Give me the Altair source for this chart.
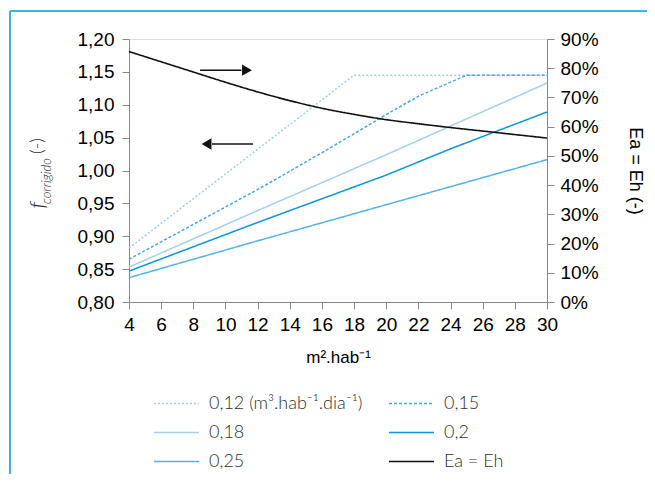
import altair as alt
import pandas as pd

# ---- data ----
x_012 = [4, 18, 30]
f_012 = [0.882, 1.145, 1.145]
x_015 = [4, 8, 12, 16, 20, 22, 25, 30]
f_015 = [0.865, 0.918, 0.971, 1.027, 1.085, 1.113, 1.145, 1.145]
x_018 = [4, 12, 20, 30]
f_018 = [0.853, 0.939, 1.024, 1.133]
x_020 = [4, 12, 16, 20, 24, 30]
f_020 = [0.847, 0.921, 0.957, 0.993, 1.033, 1.089]
x_025 = [4, 12, 20, 30]
f_025 = [0.837, 0.893, 0.948, 1.0165]
x_ea = [4, 6, 8, 10, 12, 14, 16, 18, 20, 22, 24, 26, 28, 30]
e_ea = [0.857, 0.822, 0.787, 0.752, 0.719, 0.689, 0.663, 0.642, 0.624, 0.610, 0.597, 0.585, 0.573, 0.561]

series_names = ["0,12 (m³.hab⁻¹.dia⁻¹)", "0,15", "0,18", "0,2", "0,25", "Ea = Eh"]
series_colors = ["#9fd0ef", "#45a8e0", "#a6cfea", "#0a96d4", "#55b2e2", "#111111"]
series_dash = [[2, 2], [3, 2], [1, 0], [1, 0], [1, 0], [1, 0]]

x_ticks = list(range(4, 31, 2))
f_ticks = [0.80, 0.85, 0.90, 0.95, 1.00, 1.05, 1.10, 1.15, 1.20]
e_ticks = [0.0, 0.1, 0.2, 0.3, 0.4, 0.5, 0.6, 0.7, 0.8, 0.9]

# arrows (annotation)
arrow_y = [1.1526, 1.0404]
arrow_tail = [8.42, 11.71]
arrow_base = [11.0, 9.16]
arrow_head = [11.34, 8.82]
arrow_shape = ["triangle-right", "triangle-left"]

FONT = "Lato"
W = 300
TXT = "#2e2e2e"
FRAME = "#3fb1e3"

rows = []
for name, xs, ys in [(series_names[0], x_012, f_012), (series_names[1], x_015, f_015),
                     (series_names[2], x_018, f_018), (series_names[3], x_020, f_020),
                     (series_names[4], x_025, f_025)]:
    for xv, yv in zip(xs, ys):
        rows.append({"serie": name, "x": xv, "f": yv})
df_f = pd.DataFrame(rows)
df_e = pd.DataFrame({"serie": series_names[5], "x": x_ea, "e": e_ea})
df_arrow = pd.DataFrame({"y": arrow_y, "tail": arrow_tail, "base": arrow_base,
                         "head": arrow_head, "shape": arrow_shape})

x_scale = alt.Scale(domain=[4, 30], nice=False, zero=False)
f_scale = alt.Scale(domain=[0.8, 1.2], nice=False, zero=False)
e_scale = alt.Scale(domain=[0, 0.9], nice=False)


def legend():
    return alt.Legend(orient="none", legendX=24, legendY=350, columns=2, direction="horizontal",
                      title=None, symbolType="stroke", symbolSize=2025, symbolStrokeWidth=1.5,
                      labelFont=FONT, labelFontSize=18, labelFontWeight=W, labelColor=TXT,
                      labelOffset=9, rowPadding=0, columnPadding=25, labelLimit=400,
                      clipHeight=29)


color = alt.Color("serie:N", scale=alt.Scale(domain=series_names, range=series_colors), legend=legend())
dash = alt.StrokeDash("serie:N", scale=alt.Scale(domain=series_names, range=series_dash), legend=legend())


def x_axis():
    return alt.Axis(values=x_ticks, title="m².hab⁻¹", grid=False, tickSize=7, labelPadding=6,
                    labelFontSize=19, titleFontSize=17, titlePadding=15, labelOverlap=False,
                    labelFlush=False, titleFontWeight=W, labelFontWeight=W)


def f_axis():
    return alt.Axis(values=f_ticks, title=None, grid=False, tickSize=7, labelPadding=8,
                    labelFontSize=19, labelOverlap=False, labelFlush=False, labelFontWeight=W,
                    labelExpr="replace(format(datum.value, '.2f'), '.', ',')")


e_axis = alt.Axis(values=e_ticks, orient="right", format=".0%", title="Ea = Eh (-)", titleAngle=90,
                  grid=False, tickSize=7, labelPadding=6, labelFontSize=19, titleFontSize=18,
                  titlePadding=27, labelOverlap=False, labelFlush=False, titleFontWeight=W,
                  labelFontWeight=W)

f_lines = alt.Chart(df_f).mark_line(strokeWidth=1.5).encode(
    x=alt.X("x:Q", scale=x_scale, axis=x_axis()),
    y=alt.Y("f:Q", scale=f_scale, axis=f_axis()),
    color=color, strokeDash=dash, detail="serie:N", order="x:Q")

arrow_lines = alt.Chart(df_arrow).mark_rule(color="#111111", strokeWidth=1.5).encode(
    x=alt.X("tail:Q", scale=x_scale, axis=x_axis()), x2="base:Q",
    y=alt.Y("y:Q", scale=f_scale, axis=f_axis()))
arrow_heads = alt.Chart(df_arrow).mark_point(filled=True, color="#111111", size=130, opacity=1).encode(
    x=alt.X("head:Q", scale=x_scale, axis=x_axis()), y=alt.Y("y:Q", scale=f_scale, axis=f_axis()),
    shape=alt.Shape("shape:N", scale=None, legend=None))

# left axis title: f (italic) with subscript "corrigido" and "(-)"
t_f = alt.Chart(df_arrow.head(1)).mark_text(text="f", font=FONT, fontStyle="italic", fontSize=22,
                                            fontWeight=W, angle=270, color=TXT, align="center",
                                            baseline="middle").encode(
    x=alt.value(-91), y=alt.value(166))
t_sub = alt.Chart(df_arrow.head(1)).mark_text(text="corrigido", font=FONT, fontStyle="italic", fontSize=13,
                                              fontWeight=W, angle=270, color=TXT, align="center",
                                              baseline="middle").encode(
    x=alt.value(-82), y=alt.value(142))
t_unit = alt.Chart(df_arrow.head(1)).mark_text(text="(-)", font=FONT, fontSize=18, fontWeight=W,
                                               angle=270, color=TXT, align="center",
                                               baseline="middle").encode(
    x=alt.value(-91), y=alt.value(107))

frame_top = alt.Chart(df_arrow.head(1)).mark_rule(color=FRAME, strokeWidth=2).encode(
    x=alt.value(-119), x2=alt.value(520), y=alt.value(-28))
frame_left = alt.Chart(df_arrow.head(1)).mark_rule(color=FRAME, strokeWidth=2).encode(
    x=alt.value(-119), y=alt.value(-28), y2=alt.value(440))

left = alt.layer(f_lines, arrow_lines, arrow_heads, t_f, t_sub, t_unit, frame_top, frame_left)

e_line = alt.Chart(df_e).mark_line(strokeWidth=1.6, interpolate="monotone").encode(
    x=alt.X("x:Q", scale=x_scale, axis=x_axis()),
    y=alt.Y("e:Q", scale=e_scale, axis=e_axis),
    color=color, strokeDash=dash)

chart = alt.layer(left, e_line).resolve_scale(y="independent").properties(
    width=418, height=263,
    autosize=alt.AutoSizeParams(type="none"),
    padding={"left": 121, "top": 31, "right": 100, "bottom": 172},
).configure_view(stroke="transparent", strokeWidth=0).configure_axis(
    domainColor=TXT, tickColor=TXT, domainWidth=1.5, tickWidth=1.5,
    labelColor=TXT, titleColor=TXT, labelFont=FONT, titleFont=FONT, titleFontWeight=W
).configure(background="white")

chart.save("out.html", embed_options={"renderer": "svg", "actions": False})
